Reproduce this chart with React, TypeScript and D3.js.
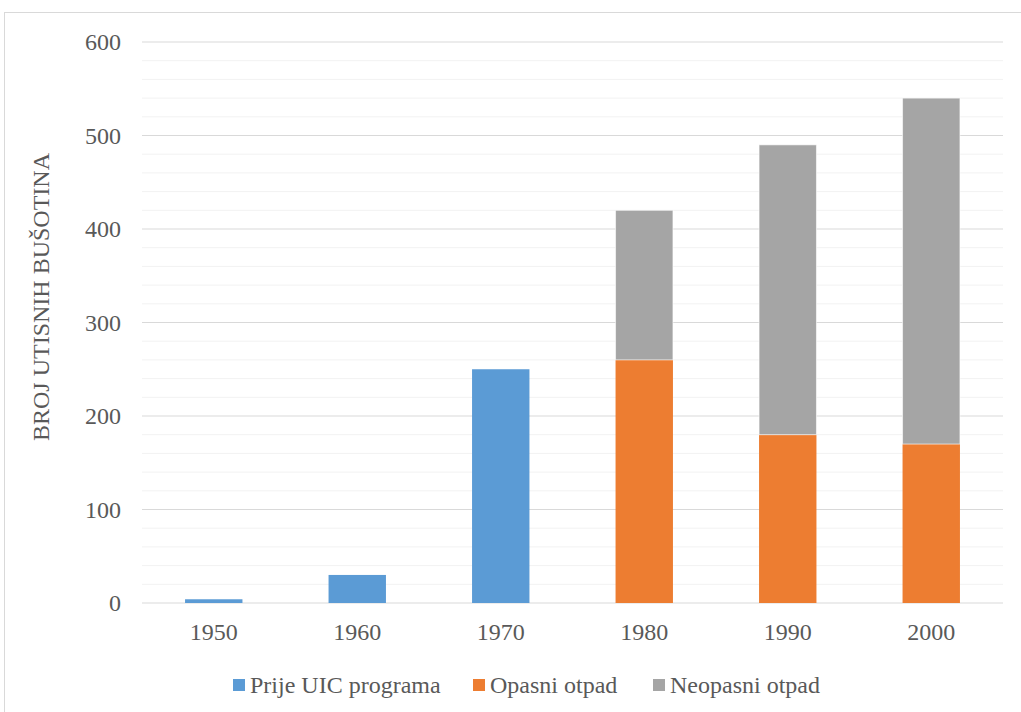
import React from "react";
import * as d3 from "d3";

const categories = ["1950", "1960", "1970", "1980", "1990", "2000"];
const prijeUIC = [4, 30, 250, 0, 0, 0];
const opasni = [0, 0, 0, 260, 180, 170];
const neopasni = [0, 0, 0, 160, 310, 370];
const seriesNames = ["Prije UIC programa", "Opasni otpad", "Neopasni otpad"];
const seriesColors = ["#5B9BD5", "#ED7D31", "#A5A5A5"];
const yTicks = [0, 100, 200, 300, 400, 500, 600];
const yTitle = "BROJ UTISNIH BUŠOTINA";

const W = 1021;
const H = 712;
const left = 142;
const right = 1003;
const top = 42;
const bottom = 603;
const font = "Liberation Serif";
const textColor = "#595959";

export default function App() {
  const x = d3.scaleBand<string>().domain(categories).range([left, right]).paddingInner(0.6).paddingOuter(0.3);
  const y = d3.scaleLinear().domain([0, 600]).range([bottom, top]);
  const rows = categories.map((c, i) => ({ cat: c, s0: prijeUIC[i], s1: opasni[i], s2: neopasni[i] }));
  const stack = d3.stack<any>().keys(["s0", "s1", "s2"])(rows);
  const minor = d3.range(0, 601, 20).filter((v) => v % 100 !== 0);

  const legendX = [233, 473, 653];

  return (
    <svg width={W} height={H} style={{ position: "absolute", left: 0, top: 0, background: "#fff" }}>
      <rect x={4.5} y={12.5} width={W + 10} height={H + 10} fill="#fff" stroke="#d9d9d9" />
      {minor.map((v) => (
        <line key={"m" + v} x1={left} x2={right} y1={y(v)} y2={y(v)} stroke="#f2f2f2" strokeWidth={1} />
      ))}
      {yTicks.map((v) => (
        <line key={"g" + v} x1={left} x2={right} y1={y(v)} y2={y(v)} stroke="#d9d9d9" strokeWidth={1} />
      ))}
      {stack.map((layer, li) =>
        layer.map((d, i) =>
          d[1] - d[0] > 0 ? (
            <rect
              key={li + "-" + i}
              x={x(categories[i])!}
              width={x.bandwidth()}
              y={y(d[1])}
              height={y(d[0]) - y(d[1])}
              fill={seriesColors[li]}
              stroke={li === 2 ? "#ffffff" : "none"}
              strokeOpacity={0.6}
              strokeWidth={li === 2 ? 1 : 0}
            />
          ) : null
        )
      )}
      {yTicks.map((v) => (
        <text key={"t" + v} x={121} y={y(v)} dy="0.35em" textAnchor="end" fontFamily={font} fontSize={24} fill={textColor}>
          {v}
        </text>
      ))}
      {categories.map((c) => (
        <text key={"c" + c} x={x(c)! + x.bandwidth() / 2} y={640} textAnchor="middle" fontFamily={font} fontSize={24} fill={textColor}>
          {c}
        </text>
      ))}
      <text
        transform={`translate(49, 297) rotate(-90)`}
        textAnchor="middle"
        fontFamily={font}
        fontSize={24}
        fill={textColor}
      >
        {yTitle}
      </text>
      {seriesNames.map((n, i) => (
        <g key={"l" + i}>
          <rect x={legendX[i]} y={679} width={12} height={12} fill={seriesColors[i]} />
          <text x={legendX[i] + 17} y={693} fontFamily={font} fontSize={24} fill={textColor}>
            {n}
          </text>
        </g>
      ))}
    </svg>
  );
}
